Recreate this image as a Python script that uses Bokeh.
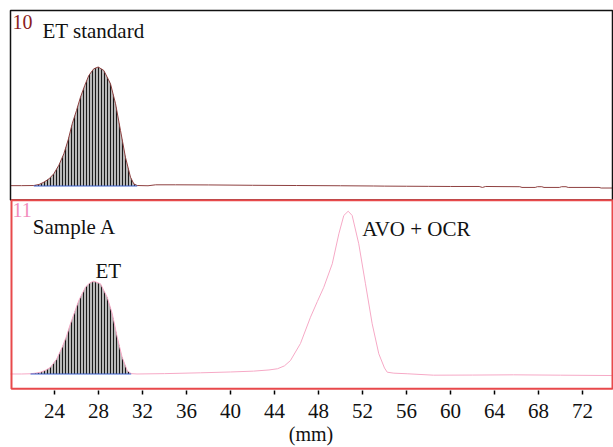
import numpy as np
from bokeh.plotting import figure
from bokeh.models import Range1d, LinearAxis, FixedTicker, Label, BoxAnnotation
from bokeh.embed import file_html
from bokeh.resources import INLINE

# ---------------- data ----------------
# Trace 10: ET standard (x in mm, signal in arbitrary units)
std_x = [20.0, 21.0, 22.12, 22.6, 23.03, 23.5, 23.94, 24.4, 24.85, 25.25, 25.61, 26.0,
         26.36, 26.75, 27.12, 27.57, 27.97, 28.48, 29.09, 29.55, 30.0, 30.45, 30.91,
         31.21, 31.52, 32.5, 33.2, 35.0, 38.0, 42.0, 46.0, 50.0, 53.0, 54.0, 56.0, 58.0,
         60.0, 62.6, 62.9, 63.2, 64.5, 66.3, 66.5, 67.7, 67.9, 68.3, 68.5, 69.9, 70.1,
         70.5, 70.7, 73.5, 73.7, 74.73]
std_y = [0.3, 0.3, 0.4, 1.3, 3.2, 6.0, 10.3, 17.5, 27.1, 39.0, 52.3, 63.5,
         74.6, 84.5, 92.9, 98.5, 100.0, 97.1, 85.9, 69.1, 46.6, 24.2, 7.4,
         1.8, 0.4, 0.2, 1.0, 1.0, 0.9, 0.6, 0.4, 0.2, 0.0, -0.1, -0.2, -0.3,
         -0.4, -0.4, -1.2, -0.4, -0.5, -0.6, -1.2, -1.2, -0.6, -0.6, -1.2, -1.2, -0.6,
         -0.6, -1.2, -1.2, -1.7, -1.7]
std_int = [22.12, 31.52]   # integrated ET peak limits

# Trace 11: Sample A
smp_x = [20.0, 21.0, 21.82, 22.27, 22.73, 23.2, 23.64, 24.2, 24.70, 25.1, 25.45, 25.85,
         26.21, 26.82, 27.2, 27.57, 28.18, 28.79, 29.25, 29.70, 30.15, 30.61, 30.97,
         31.5, 34.0, 37.27, 40.0, 42.09, 43.5, 44.27, 44.9, 45.45, 46.36, 47.27, 47.9,
         48.48, 49.25, 49.85, 50.30, 50.70, 51.06, 51.66, 52.27, 52.88, 53.48, 54.0,
         54.25, 54.85, 56.06, 58.45, 62.0, 65.73, 70.0, 74.73]
smp_y = [0.0, 0.0, 0.2, 0.7, 1.5, 3.2, 5.7, 12.5, 22.5, 32.0, 42.2, 52.5,
         61.8, 73.0, 76.5, 78.0, 75.8, 64.5, 50.6, 31.0, 14.1, 2.9, 0.3,
         0.0, 0.3, 1.0, 1.7, 2.4, 3.4, 4.4, 6.8, 11.3, 25.6, 47.7, 61.0,
         72.9, 92.6, 117.8, 133.2, 136.8, 133.2, 109.4, 75.8, 42.2, 17.0, 5.0,
         1.5, 0.7, 0.2, -1.0, -0.9, -0.7, -1.0, -1.3]
smp_int = [21.82, 30.97]

x_ticks = [24, 28, 32, 36, 40, 44, 48, 52, 56, 60, 64, 68, 72]

# ---------------- figure ----------------
FONT = "'Liberation Serif', serif"
p = figure(width=613, height=447, output_backend="svg", toolbar_location=None,
           x_range=Range1d(19.818, 74.818), y_range=Range1d(-171.85, 149.16),
           min_border_left=8, min_border_right=0, min_border_top=8, min_border_bottom=57)
p.extra_y_ranges = {"bottom": Range1d(-13.87, 307.14)}
p.outline_line_color = None
p.grid.visible = False
p.yaxis.visible = False
p.xaxis.visible = False
p.background_fill_color = "white"
p.border_fill_color = "white"

ax = LinearAxis(ticker=FixedTicker(ticks=x_ticks), axis_label="(mm)")
ax.axis_line_color = None
ax.major_tick_in = 0
ax.major_tick_out = 4
ax.major_tick_line_color = "black"
ax.major_tick_line_width = 1.5
ax.minor_tick_line_color = None
ax.major_label_text_font = FONT
ax.major_label_text_font_size = "21px"
ax.major_label_text_color = "#111111"
ax.major_label_standoff = 9
ax.axis_label_text_font = FONT
ax.axis_label_text_font_size = "20px"
ax.axis_label_text_font_style = "normal"
ax.axis_label_text_color = "#111111"
ax.axis_label_standoff = 2
p.add_layout(ax, "below")

# panel frames
top_box = BoxAnnotation(left=20.0, right=74.727, top=147.48, bottom=-11.76,
                        fill_color=None, line_color="#111111", line_width=1.5,
                        line_alpha=1.0)
bot_box = BoxAnnotation(left=20.09, right=74.727, top=145.97, bottom=-12.44,
                        y_range_name="bottom", fill_color=None,
                        line_color="#e8494b", line_width=2, line_alpha=1.0)
p.add_layout(top_box)
p.add_layout(bot_box)

def peak_part(xs, ys, lim):
    xs = np.asarray(xs); ys = np.asarray(ys)
    m = (xs >= lim[0]) & (xs <= lim[1])
    return xs[m], ys[m]

# ET standard
sx, sy = peak_part(std_x, std_y, std_int)
p.varea(x=sx, y1=np.zeros_like(sy), y2=sy, fill_color="#b8b8b8",
        hatch_pattern="|", hatch_color="#1a1a1a", hatch_scale=3, hatch_weight=1)
p.line(std_x, std_y, line_color="#8e4040", line_width=1)
p.line(std_int, [0, 0], line_color="#3a5fcd", line_width=1)

# Sample A
bx, by = peak_part(smp_x, smp_y, smp_int)
p.varea(x=bx, y1=np.zeros_like(by), y2=by, fill_color="#b8b8b8",
        hatch_pattern="|", hatch_color="#1a1a1a", hatch_scale=3, hatch_weight=1,
        y_range_name="bottom")
p.line(smp_x, smp_y, line_color="#f6a9c6", line_width=1, y_range_name="bottom")
p.line(smp_int, [0, 0], line_color="#3a5fcd", line_width=1, y_range_name="bottom")

# labels
def lab(x, y, t, color="#111111", size="21px", rng="default", align="left"):
    p.add_layout(Label(x=x, y=y, text=t, text_font=FONT, text_font_size=size,
                       text_color=color, text_baseline="middle", text_align=align,
                       y_range_name=rng))

lab(20.18, 138.1, "10", color="#8b1c1c", size="20px")
lab(22.91, 130.1, "ET standard")
lab(20.18, 137.4, "11", color="#f28cbc", size="20px", rng="bottom")
lab(22.03, 123.7, "Sample A", rng="bottom")
lab(27.73, 86.4, "ET", rng="bottom")
lab(51.97, 122.0, "AVO + OCR", rng="bottom")

open("out.html", "w").write(file_html(p, INLINE))
